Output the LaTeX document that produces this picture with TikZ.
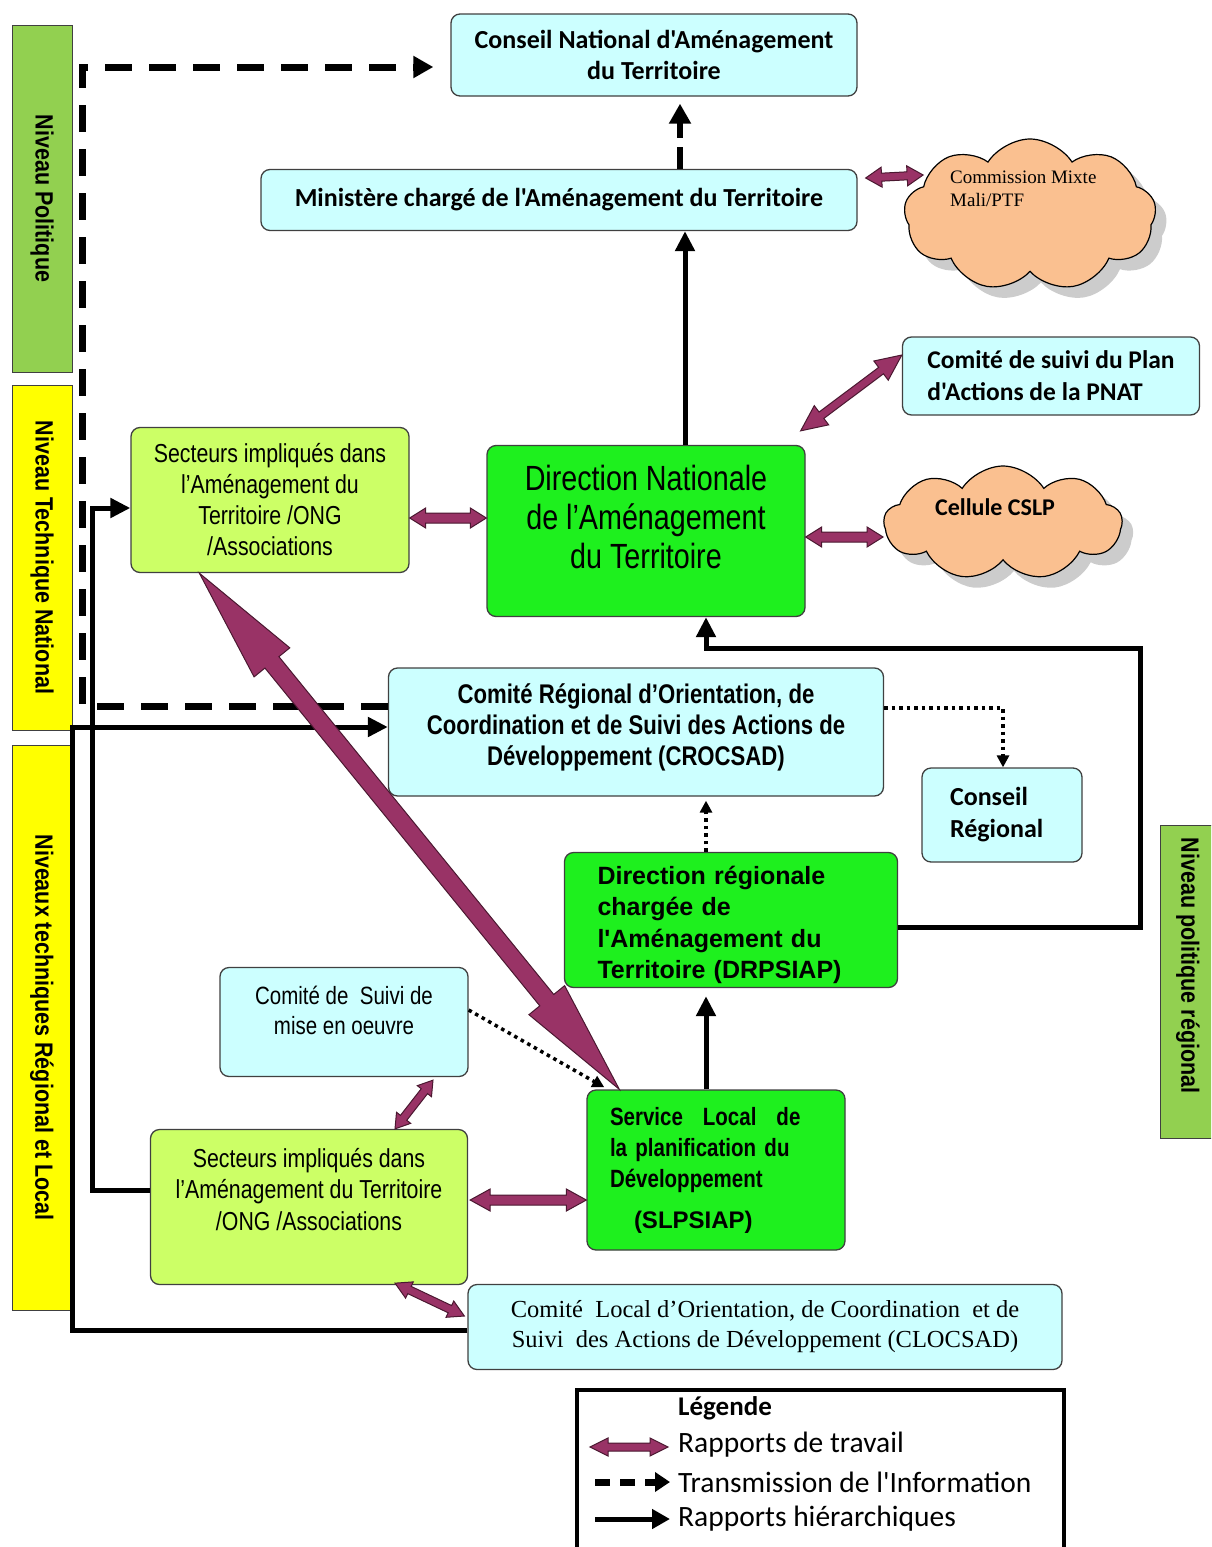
\documentclass[tikz,border=0pt]{standalone}
\usepackage{fontspec}
\setmainfont[Ligatures=TeXOff]{Liberation Sans}
\newfontfamily\calib[Ligatures=TeXOff]{Carlito}
\newfontfamily\tnr[Ligatures=TeXOff]{Liberation Serif}
\newfontfamily\narrowf[Ligatures=TeXOff,FakeStretch=0.82]{Liberation Sans}
\newfontfamily\barf[Ligatures=TeXOff,FakeStretch=0.86]{Liberation Sans}
\newfontfamily\arialf[Ligatures=TeXOff]{Liberation Sans}
\usetikzlibrary{arrows.meta,calc,shapes.symbols,shadows}
\definecolor{cyanc}{HTML}{CCFFFF}
\definecolor{lgreen}{HTML}{CCFF66}
\definecolor{bgreen}{HTML}{1EF01E}
\definecolor{barg}{HTML}{92D050}
\definecolor{bary}{HTML}{FFFF00}
\definecolor{maroon}{HTML}{993366}
\definecolor{maroondk}{HTML}{4A1830}
\definecolor{peach}{HTML}{FAC090}
\definecolor{edgec}{HTML}{404040}
\newcommand\fsz[2]{\fontsize{#1}{#2}\selectfont}
% fat double arrow: #1 start, #2 end, #3 shaft half width, #4 head half width, #5 head length
\newcommand\fatarr[5]{%
  \path (#1) coordinate (faS) (#2) coordinate (faE);
  \path ($(faS)!#5!(faE)$) coordinate (faA) ($(faE)!#5!(faS)$) coordinate (faB);
  \draw[fatarrow] (faS) -- ($(faA)!#4!90:(faE)$) -- ($(faA)!#3!90:(faE)$)
    -- ($(faB)!#3!-90:(faS)$) -- ($(faB)!#4!-90:(faS)$) -- (faE)
    -- ($(faB)!#4!90:(faS)$) -- ($(faB)!#3!90:(faS)$)
    -- ($(faA)!#3!-90:(faE)$) -- ($(faA)!#4!-90:(faE)$) -- cycle;
}
\begin{document}
\begin{tikzpicture}[x=1pt,y=-1pt,
  box/.style={rectangle, rounded corners=9pt, draw=edgec, line width=1.3pt, inner sep=0pt, align=center},
  cbox/.style={box, fill=cyanc},
  lgbox/.style={box, fill=lgreen},
  gbox/.style={box, fill=bgreen},
  bar/.style={rectangle, draw=edgec, line width=1pt, inner sep=0pt, rotate=-90, font=\barf\bfseries\fsz{25}{30}},
  cloudshape/.style={cloud, cloud puffs=9, cloud puff arc=115, cloud ignores aspect, draw=black, line width=1.2pt, fill=peach, inner sep=0pt,
     drop shadow={shadow xshift=11pt, shadow yshift=-11pt, fill=gray!80}},
  hier/.style={line width=5pt, -{Triangle[length=20pt,width=19pt]}},
  info/.style={line width=7pt, dash pattern=on 27pt off 17pt, -{Triangle[length=20pt,width=21pt]}},
  dotl/.style={line width=3.5pt, dash pattern=on 3.5pt off 4pt, -{Triangle[length=12pt,width=12pt]}},
  fatarrow/.style={fill=maroon, draw=maroondk, line width=1pt, line join=miter},
  plain/.style={inner sep=0pt}
]
\useasboundingbox (0,0) rectangle (1211,1547);
\clip (0,0) rectangle (1211,1547);

% level bars
\node[bar, fill=barg, minimum width=347pt, minimum height=60pt] (b1) at (42,198.5) {Niveau Politique};
\node[bar, fill=bary, minimum width=345pt, minimum height=60pt] (b2) at (42,557.5) {Niveau Technique National};
\node[bar, fill=bary, minimum width=565pt, minimum height=60pt] (b3) at (42,1027.5) {Niveaux techniques Régional et Local};
\node[bar, fill=barg, minimum width=313pt, minimum height=56pt] (b4) at (1188,981.5) {Niveau politique régional\hspace*{32pt}};

% boxes
\node[cbox, minimum width=406pt, minimum height=82pt, font=\calib\bfseries\fsz{26}{31}] (cnat) at (654,55) {Conseil National d'Aménagement\\du Territoire};
\node[cbox, minimum width=596pt, minimum height=61pt, font=\calib\bfseries\fsz{26}{29}] (min) at (559,200) {Ministère chargé de l'Aménagement du Territoire};
\node[cloudshape, minimum width=252pt, minimum height=152pt] (cmix) at (1030,215) {};
\node[plain, anchor=north west, align=left, font=\tnr\fsz{19}{23}] (cmixt) at (950,171) {Commission Mixte\\Mali/PTF};
\node[cbox, minimum width=297pt, minimum height=78pt, align=left, font=\calib\bfseries\fsz{25.5}{32}] (pnat) at (1051,376) {Comité de suivi du Plan\\d'Actions de la PNAT};
\node[lgbox, minimum width=278pt, minimum height=145pt, font=\narrowf\fsz{26}{31}] (sect1) at (270,500) {Secteurs impliqués dans\\l’Aménagement du\\Territoire /ONG\\/Associations};
\node[gbox, minimum width=318pt, minimum height=171pt, font=\narrowf\fsz{35}{39}, text depth=28pt] (dnat) at (646,531) {Direction Nationale\\de l’Aménagement\\du Territoire};
\node[cloudshape, minimum width=238pt, minimum height=114pt] (cslp) at (1003,523) {};
\node[plain, font=\calib\bfseries\fsz{24}{26}] (cslpt) at (995,507) {Cellule CSLP};
\node[cbox, minimum width=495pt, minimum height=128pt, font=\narrowf\bfseries\fsz{27}{31}, text depth=14pt] (croc) at (636,732) {Comité Régional d’Orientation, de\\Coordination et de Suivi des Actions de\\Développement (CROCSAD)};
\node[cbox, minimum width=160pt, minimum height=94pt, align=left, text width=104pt, font=\calib\bfseries\fsz{26}{32}] (creg) at (1002,815) {Conseil\\Régional};
\node[gbox, minimum width=333pt, minimum height=135pt, align=left, text width=267pt, font=\arialf\bfseries\fsz{25}{31.5}, text height=28pt] (drp) at (731,920) {Direction régionale\\chargée de\\l'Aménagement du\\Territoire (DRPSIAP)};
\node[cbox, minimum width=248pt, minimum height=109pt, font=\narrowf\fsz{25}{30}, text depth=24pt] (csm) at (344,1022) {Comité de\ \ Suivi de\\mise en oeuvre};
\node[gbox, minimum width=258pt, minimum height=160pt, align=left, text width=212pt, font=\narrowf\bfseries\fsz{25}{31}] (slp) at (716,1170) {Service\hspace{20pt}Local\hspace{20pt}de\\la planification du\\Développement\\[10pt]\hspace*{24pt}{\arialf\bfseries\fsz{24}{31}(SLPSIAP)}};
\node[lgbox, minimum width=317pt, minimum height=155pt, font=\narrowf\fsz{26}{31.5}, text depth=36pt] (sect2) at (309,1207) {Secteurs impliqués dans\\l’Aménagement du Territoire\\/ONG /Associations};
\node[cbox, minimum width=594pt, minimum height=85pt, font=\tnr\fsz{24.5}{30}] (cloc) at (765,1327) {Comité\ \ Local d’Orientation,\ de Coordination\ \ et de\\Suivi\ \ des Actions de Développement (CLOCSAD)};

% legend
\node[draw=black, line width=4pt, minimum width=487pt, minimum height=190pt, anchor=north west, inner sep=0pt] (leg) at (575,1388) {};
\node[plain, anchor=west, font=\calib\bfseries\fsz{27}{30}] (legt) at (678,1408) {Légende};
\node[plain, anchor=west, font=\calib\fsz{29.5}{32}] (l1) at (678,1445) {Rapports de travail};
\node[plain, anchor=west, font=\calib\fsz{29.5}{32}] (l2) at (678,1482) {Transmission de l'Information};
\node[plain, anchor=west, font=\calib\fsz{29.5}{32}] (l3) at (678,1519) {Rapports hiérarchiques};
\coordinate (la1) at (590,1447); \coordinate (la2) at (668,1447);
\coordinate (lb1) at (595,1482); \coordinate (lb2) at (670,1482);
\coordinate (lc1) at (595,1519); \coordinate (lc2) at (670,1519);
\draw[info, line width=7pt, dash pattern=on 15pt off 10pt, -{Triangle[length=15pt,width=19pt]}] (lb1) -- (lb2);
\draw[hier, -{Triangle[length=18pt,width=19pt]}] (lc1) -- (lc2);

% connectors
\draw[info, shorten >=15pt] ([yshift=26pt]croc.west) -- (82,706) -- (82,67) -- ([xshift=-2pt,yshift=-12pt]cnat.west);
\draw[info, dash pattern=on 22pt off 9pt, shorten >=7pt, line width=6pt] ([xshift=121pt]min.north) -- ([xshift=26pt]cnat.south);
\draw[hier] ([xshift=39pt]dnat.north) -- ([xshift=126pt]min.south);
\draw[hier] ([yshift=-3pt]cloc.west) -- (72,1330) -- (72,727) -- ([yshift=5pt]croc.west);
\draw[hier] ([yshift=17pt]sect2.west) -- (92,1190) -- (92,508) -- ([yshift=-8pt]sect1.west);
\draw[hier] ([yshift=-7pt]drp.east) -- (1140,927) -- (1140,648) -- (706,648) -- ([xshift=60pt]dnat.south);
\draw[hier, shorten >=8pt] ([xshift=-10pt]slp.north) -- ([xshift=-25pt]drp.south);
\draw[dotl, shorten >=4pt] ([xshift=-25pt]drp.north) -- ([xshift=70pt]croc.south);
\draw[dotl] ([yshift=24pt]croc.east) -| ([xshift=1pt]creg.north);
\draw[dotl] ([yshift=12pt]csm.east) -- ([xshift=18pt,yshift=2pt]slp.north west);

% working relations (fat double arrows)
\fatarr{la1}{la2}{4pt}{9pt}{18pt}
\fatarr{[xshift=8pt,yshift=22pt]min.east}{[xshift=19pt,yshift=40pt]cmix.west}{4pt}{10pt}{16pt}
\fatarr{[xshift=-5pt,yshift=14pt]dnat.north east}{[yshift=21pt]pnat.west}{4pt}{12pt}{26pt}
\fatarr{[yshift=-18pt]sect1.east}{[yshift=13pt]dnat.west}{5pt}{10pt}{16pt}
\fatarr{[yshift=-6pt]dnat.east}{[yshift=-14pt]cslp.west}{5pt}{10pt}{16pt}
\fatarr{[xshift=69pt]sect1.south west}{[xshift=33pt]slp.north west}{9pt}{23pt}{115pt}
\fatarr{[xshift=89pt,yshift=-3pt]csm.south}{[xshift=86pt]sect2.north}{4pt}{9pt}{14pt}
\fatarr{[xshift=2pt,yshift=7pt]sect2.east}{[yshift=-30pt]slp.west}{5pt}{11pt}{20pt}
\fatarr{[xshift=86pt,yshift=2pt]sect2.south}{[xshift=-3pt,yshift=11pt]cloc.west}{4pt}{9pt}{16pt}
\end{tikzpicture}
\end{document}
